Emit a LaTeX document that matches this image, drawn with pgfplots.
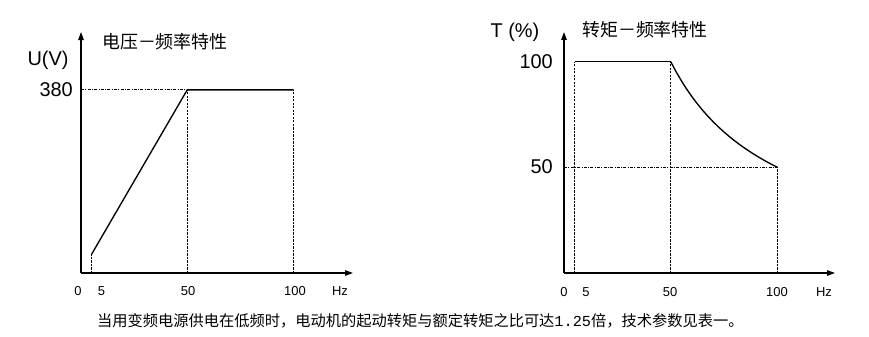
\documentclass[border=0pt]{standalone}
\usepackage{pgfplots}
\pgfplotsset{compat=1.18}
\usepackage{fontspec}
\setmainfont{Liberation Sans}
\newfontfamily\cjk{Noto Sans CJK SC}
\newfontfamily\mono{Liberation Mono}
\usetikzlibrary{arrows.meta}
\begin{document}
\begin{tikzpicture}[x=1bp,y=1bp]
\useasboundingbox (0,0) rectangle (869,336);
\tikzset{
  dsh/.style={black, line width=1bp, dash pattern=on 2.2bp off 1.3bp},
  dshd/.style={black, line width=1bp, dash pattern=on 3bp off 1.3bp on 1bp off 1.3bp},
  sol/.style={black, line width=1.35bp},
  axl/.style={black, line width=1.2bp, arrows={-Stealth[length=8bp,width=5.5bp,inset=0pt]}},
}
\pgfplotsset{
  myax/.style={
    axis lines=none, scale only axis, clip=false,
    xtick=\empty, ytick=\empty,
    xmin=0, ymin=0, height=241bp,
  }
}
% ---- left chart ----
\begin{axis}[myax, at={(81bp,63bp)}, anchor=origin, width=272bp, xmax=128, ymax=500]
\draw[axl] (axis cs:0,0) -- (axis cs:128,0);
\draw[axl] (axis cs:0,0) -- (axis cs:0,500);
\addplot[dsh] coordinates {(5,0) (5,39)};
\addplot[dsh] coordinates {(50,0) (50,380)};
\addplot[dsh] coordinates {(100,0) (100,380)};
\addplot[dshd] coordinates {(0,380) (50,380)};
\addplot[sol] coordinates {(5,39) (50,380) (100,380)};
\end{axis}
% ---- right chart ----
\begin{axis}[myax, at={(564bp,63bp)}, anchor=origin, width=271bp, xmax=127, ymax=114]
\draw[axl] (axis cs:0,0) -- (axis cs:127,0);
\draw[axl] (axis cs:0,0) -- (axis cs:0,114);
\addplot[dsh] coordinates {(5,0) (5,100)};
\addplot[dsh] coordinates {(50,0) (50,100)};
\addplot[dsh] coordinates {(100,0) (100,50)};
\addplot[dshd] coordinates {(0,50) (100,50)};
\addplot[sol] coordinates {(5,100) (50,100)};
\addplot[sol] coordinates {
(50,100) (52.5,95.24) (55,90.91) (57.5,86.96) (60,83.33) (62.5,80) (65,76.92)
(67.5,74.07) (70,71.43) (72.5,68.97) (75,66.67) (77.5,64.52) (80,62.5)
(82.5,60.61) (85,58.82) (87.5,57.14) (90,55.56) (92.5,54.05) (95,52.63)
(97.5,51.28) (100,50)};
\end{axis}
% ---- texts, left ----
\node[font=\fontsize{20}{22}\selectfont] at (48,276) {U(V)};
\node[anchor=east, font=\fontsize{20}{22}\selectfont, inner sep=0pt] at (73,246) {380};
\node[anchor=west, font=\cjk\fontsize{18}{20}\selectfont, inner sep=0pt] at (102,294) {电压－频率特性};
\foreach \xx/\tt in {78/0, 101.5/5, 188/50, 295/100, 340/Hz}
  \node[font=\fontsize{13}{15}\selectfont] at (\xx,45) {\tt};
% ---- texts, right ----
\node[font=\fontsize{20}{22}\selectfont] at (515,304) {T (\%)};
\node[anchor=east, font=\fontsize{20}{22}\selectfont, inner sep=0pt] at (553,274) {100};
\node[anchor=east, font=\fontsize{20}{22}\selectfont, inner sep=0pt] at (553,169) {50};
\node[anchor=west, font=\cjk\fontsize{18}{20}\selectfont, inner sep=0pt] at (582,306) {转矩－频率特性};
\foreach \xx/\tt in {564/0, 586/5, 670/50, 777/100, 824/Hz}
  \node[font=\fontsize{13}{15}\selectfont] at (\xx,44) {\tt};
% ---- caption ----
\node[anchor=west, inner sep=0pt, font=\cjk\fontsize{15.3}{17}\selectfont] at (97,15) {当用变频电源供电在低频时，电动机的起动转矩与额定转矩之比可达{\mono 1.25}倍，技术参数见表一。};
\end{tikzpicture}
\end{document}
